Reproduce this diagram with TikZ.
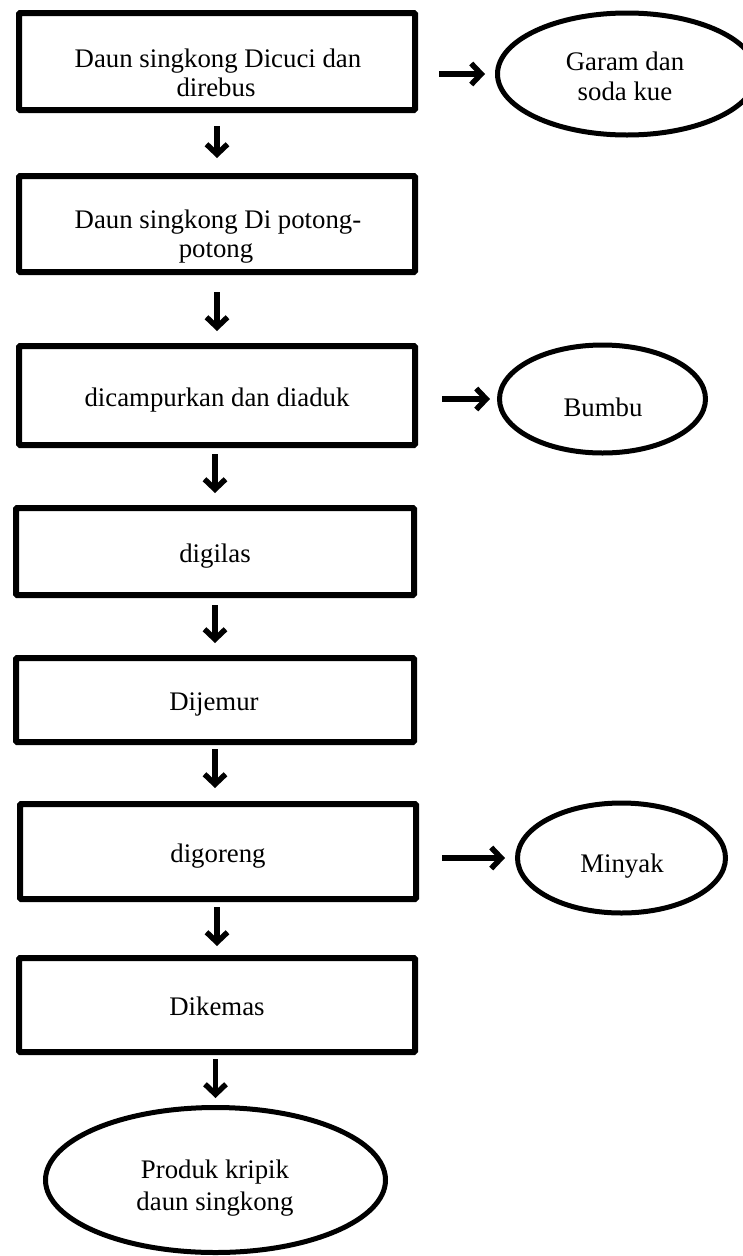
\documentclass[tikz,border=0pt]{standalone}
\usepackage{fontspec}
\setmainfont{Liberation Serif}
\usetikzlibrary{shapes.geometric,arrows.meta}
\begin{document}
\begin{tikzpicture}[x=1pt,y=-1pt,
  stepbox/.style={draw,line width=6pt,rectangle,rounded corners=1.2pt,inner sep=0pt,outer sep=0pt},
  oval/.style={draw,line width=5pt,ellipse,inner sep=0pt,outer sep=0pt},
  lbl/.style={anchor=base,inner sep=0pt,font=\fontsize{26.8}{30}\selectfont},
  arr/.style={line width=5.5pt,-{Straight Barb[length=10pt,width=21pt]}}]
\useasboundingbox (0,0) rectangle (743,1256);
\clip (0,0) rectangle (743,1256);
% boxes
\node[stepbox,minimum width=396pt,minimum height=97pt] (b1) at (217,61.5) {};
\node[stepbox,minimum width=396pt,minimum height=96pt] (b2) at (217,224) {};
\node[stepbox,minimum width=396pt,minimum height=99pt] (b3) at (217,395.5) {};
\node[stepbox,minimum width=398pt,minimum height=87pt] (b4) at (215,551.5) {};
\node[stepbox,minimum width=398pt,minimum height=84pt] (b5) at (215,700) {};
\node[stepbox,minimum width=396pt,minimum height=95pt] (b6) at (218,851.5) {};
\node[stepbox,minimum width=396pt,minimum height=94pt] (b7) at (217,1005) {};
% ovals
\node[oval,minimum width=259pt,minimum height=122pt] (e1) at (627,74) {};
\node[oval,minimum width=206pt,minimum height=108pt] (e2) at (602.5,399) {};
\node[oval,minimum width=208pt,minimum height=110pt] (e3) at (621.5,858) {};
\node[oval,minimum width=340pt,minimum height=145pt] (e4) at (215.5,1180) {};
% texts
\node[lbl] (t1a) at (218,67) {Daun singkong Dicuci dan};
\node[lbl] (t1b) at (216,96) {direbus};
\node[lbl] (t2a) at (218,228) {Daun singkong Di potong-};
\node[lbl] (t2b) at (216,257) {potong};
\node[lbl] (t3) at (217,406) {dicampurkan dan diaduk};
\node[lbl] (t4) at (215,562) {digilas};
\node[lbl] (t5) at (214,710) {Dijemur};
\node[lbl] (t6) at (218,862) {digoreng};
\node[lbl] (t7) at (217,1015) {Dikemas};
\node[lbl] (te1a) at (625,70) {Garam dan};
\node[lbl] (te1b) at (625,100) {soda kue};
\node[lbl] (te2) at (603,416) {Bumbu};
\node[lbl] (te3) at (622,872) {Minyak};
\node[lbl] (te4a) at (215,1178) {Produk kripik};
\node[lbl] (te4b) at (215,1210) {daun singkong};
% down arrows
\draw[arr,shorten <=16pt,shorten >=18pt] (b1.south) -- (b2.north);
\draw[arr,shorten <=20pt,shorten >=15pt] (b2.south) -- (b3.north);
\draw[arr,shorten <=9pt,shorten >=15pt] (b3.south -| b4.north) -- (b4.north);
\draw[arr,shorten <=10pt,shorten >=15pt] (b4.south) -- (b5.north);
\draw[arr,shorten <=7pt,shorten >=16pt] (b5.south) -- (b6.north -| b5.south);
\draw[arr,shorten <=8pt,shorten >=12pt] (b6.south -| b7.north) -- (b7.north);
\draw[arr,shorten <=7pt,shorten >=9.5pt] (b7.south -| e4.north) -- (e4.north);
% side arrows
\draw[arr,shorten <=24pt,shorten >=12.5pt] (b1.east |- e1.west) -- (e1.west);
\draw[arr,shorten <=27pt,shorten >=9.5pt] (b3.east |- e2.west) -- (e2.west);
\draw[arr,shorten <=26pt,shorten >=12.5pt] (b6.east |- e3.west) -- (e3.west);
\end{tikzpicture}
\end{document}
